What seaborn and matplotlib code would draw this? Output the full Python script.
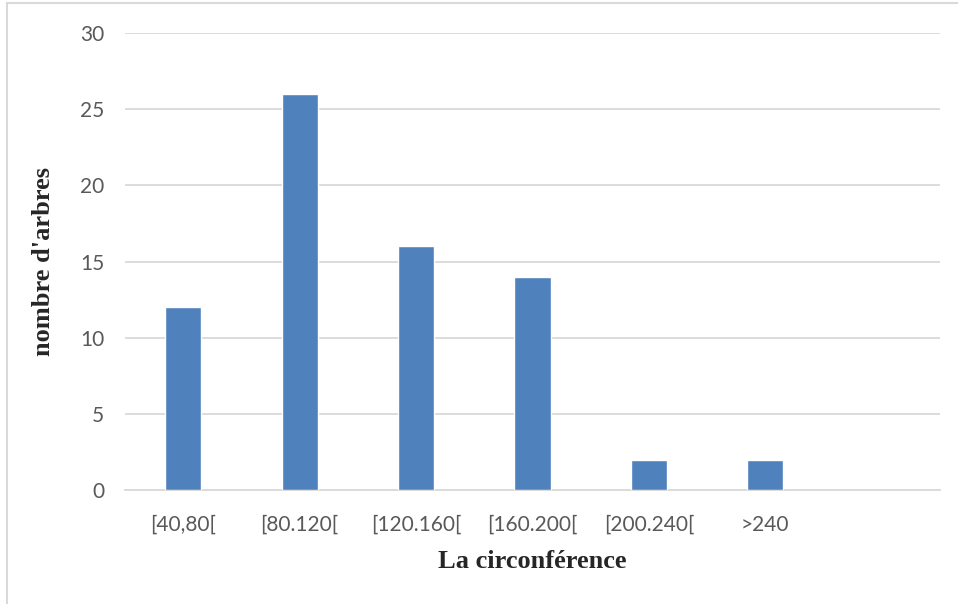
import matplotlib
matplotlib.use("Agg")
import matplotlib.pyplot as plt
import seaborn as sns
import pandas as pd
from matplotlib.lines import Line2D

categories = ["[40,80[", "[80.120[", "[120.160[", "[160.200[", "[200.240[", ">240"]
counts = [12, 26, 16, 14, 2, 2]
yticks = [0, 5, 10, 15, 20, 25, 30]

df = pd.DataFrame({"classe": categories, "arbres": counts})

sns.set_style("white")
fig = plt.figure(figsize=(9.58, 6.04), dpi=100)
ax = fig.add_axes([125 / 958, 1 - 490 / 604, (940 - 125) / 958, (490 - 33) / 604])

sns.barplot(data=df, x="classe", y="arbres", color="#4F81BD", width=0.31,
            saturation=1, ax=ax, zorder=3)

ax.set_xlim(-0.5, 6.5)
ax.set_ylim(0, 30)
ax.set_yticks(yticks)
ax.yaxis.grid(True, color="#D9D9D9", linewidth=1.3, zorder=0)
ax.set_axisbelow(True)
for s in ["top", "right", "left"]:
    ax.spines[s].set_visible(False)
ax.spines["bottom"].set_color("#D9D9D9")
ax.spines["bottom"].set_linewidth(1.3)
ax.tick_params(axis="both", length=0, labelsize=15, labelcolor="#595959")
ax.tick_params(axis="x", pad=18)
ax.tick_params(axis="y", pad=15)
for lab in ax.get_xticklabels() + ax.get_yticklabels():
    lab.set_family("Lato")

ax.set_xlabel("La circonférence", fontsize=19, fontweight="bold",
              family="Liberation Serif", labelpad=11)
ax.set_ylabel("nombre d'arbres", fontsize=19, fontweight="bold",
              family="Liberation Serif", labelpad=18)

# chart frame (top and left edges visible in the reference)
fig.add_artist(Line2D([7 / 958, 1], [1 - 3 / 604, 1 - 3 / 604], color="#D9D9D9",
                      linewidth=1.5, transform=fig.transFigure))
fig.add_artist(Line2D([7 / 958, 7 / 958], [0, 1 - 3 / 604], color="#D9D9D9",
                      linewidth=1.5, transform=fig.transFigure))

fig.savefig("out.png", dpi=100)
